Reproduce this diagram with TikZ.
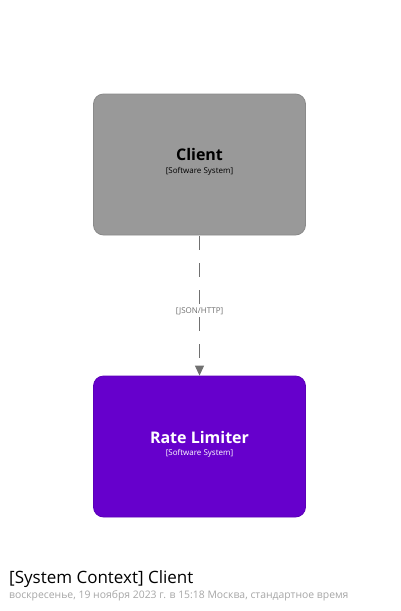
\documentclass[tikz,border=0pt]{standalone}
\usepackage{fontspec}
\setmainfont{Open Sans}
\usetikzlibrary{arrows.meta}
\definecolor{clientgray}{HTML}{999999}
\definecolor{clientborder}{HTML}{8A8A8A}
\definecolor{rlpurple}{HTML}{6600CC}
\definecolor{rlborder}{HTML}{5C00B8}
\definecolor{linkgray}{HTML}{707070}
\definecolor{subgray}{HTML}{A6A6A6}
\tikzset{
  sysbox/.style={rounded corners=10pt, minimum width=212pt, minimum height=141pt, inner sep=0pt, line width=0.8pt},
  rel/.style={draw=linkgray, line width=1pt, dash pattern=on 14pt off 13pt, dash phase=-1pt, -{Triangle[width=9pt,length=10pt]}},
}
\begin{document}
\begin{tikzpicture}[x=1pt,y=-1pt]
\useasboundingbox (0,0) rectangle (400,611);
\node[sysbox, fill=clientgray, draw=clientborder] (client) at (199.5,164.5) {};
\node[sysbox, fill=rlpurple, draw=rlborder] (rl) at (199.5,446.5) {};
\node[font=\fontsize{16}{19}\selectfont\bfseries, text=black] (clientname) at (199.5,154) {Client};
\node[font=\fontsize{8}{9}\selectfont, text=black] (clienttype) at (199.5,171) {[Software System]};
\node[font=\fontsize{16}{19}\selectfont\bfseries, text=white] (rlname) at (199.5,437) {Rate Limiter};
\node[font=\fontsize{8}{9}\selectfont, text=white] (rltype) at (199.5,453) {[Software System]};
\draw[rel] (client.south) -- (rl.north) node[pos=0.54, fill=white, inner xsep=1.5pt, inner ysep=1pt, font=\fontsize{8}{9}\selectfont, text=linkgray] (rellabel) {[JSON/HTTP]};
\node[anchor=base west, inner sep=0pt, font=\fontsize{17}{20}\selectfont] (title) at (9,583) {[System Context] Client};
\node[anchor=base west, inner sep=0pt, font=\fontsize{10.4}{12}\selectfont, text=subgray] (subtitle) at (9,598) {воскресенье, 19 ноября 2023 г. в 15:18 Москва, стандартное время};
\end{tikzpicture}
\end{document}
